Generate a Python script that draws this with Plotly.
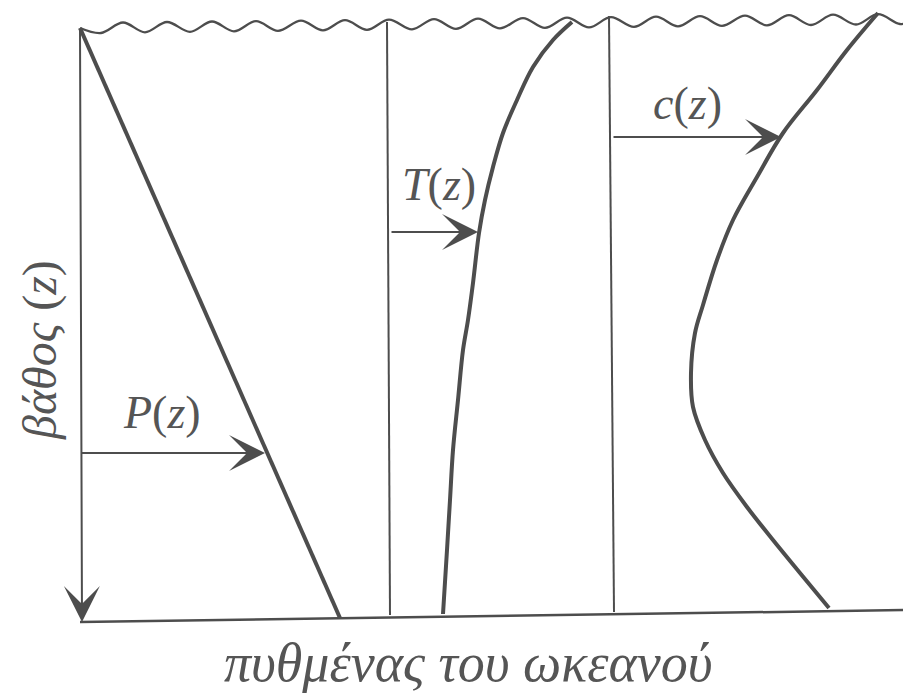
import plotly.graph_objects as go

# Diagram units: horizontal position (x) and depth drawn downward (y),
# read off the reference drawing.
_INK = "#4d4d4d"
_TEXT = "#555555"
_FONT = "Liberation Serif"

# sea surface: alternating crests / troughs, smoothed with a spline
surface_x = [80, 101, 123, 145, 167, 190, 212, 234, 256, 278, 301, 323, 345, 367,
             389, 412, 434, 456, 478, 500, 523, 545, 567, 589, 611, 634, 656, 678,
             700, 722, 745, 767, 789, 811, 833, 856, 878, 900, 911]
surface_y = [28, 33, 22.5, 32.3, 22, 31.8, 21.5, 31.3, 21.1, 30.8, 20.6, 30.3, 20.1,
             29.8, 19.6, 29.3, 19.1, 28.9, 18.6, 28.4, 18.1, 27.9, 17.6, 27.4, 17.2,
             26.9, 16.7, 26.4, 16.2, 25.9, 15.7, 25.4, 15.2, 25, 14.7, 24.5, 14.2,
             24, 21]

# sea floor
floor_x = [80, 911]
floor_y = [622, 610]

# reference verticals for the T and c profiles
t_axis_x = [387, 390]
t_axis_y = [22, 615]
c_axis_x = [609, 614]
c_axis_y = [16, 612]

# pressure: linear with depth
p_x = [80, 340]
p_y = [28, 618]

# temperature profile
t_x = [572, 553, 533, 517, 503, 493, 485, 479, 473, 468, 463, 458, 453, 450, 447, 443]
t_y = [22, 40, 67, 100, 133, 167, 200, 233, 283, 320, 350, 400, 450, 500, 550, 614]

# sound-speed profile
c_x = [878, 847, 817, 783, 757, 733, 717, 703, 695, 691, 693, 705, 723, 747, 773, 800, 829]
c_y = [13, 50, 90, 133, 177, 220, 260, 305, 333, 373, 407, 440, 473, 507, 540, 573, 608]

# arrows: (tail x, tail y, head x, head y)
depth_arrow = (80, 28, 82, 622)
p_arrow = (80, 453, 265, 453)
t_arrow = (390, 232, 478, 232)
c_arrow = (612, 137, 781, 137)

labels = ["<i>P</i>(<i>z</i>)", "<i>T</i>(<i>z</i>)", "<i>c</i>(<i>z</i>)"]
label_x = [162, 439, 687]
label_y = [412, 184, 103]

floor_label = "<i>πυθμένας του ωκεανού</i>"
depth_label = "<i>βάθος</i> (<i>z</i>)"

# the page body has an 8 px margin; shift the axes so the drawing lands
# where the reference has it
_PAGE_W, _PAGE_H, _BODY = 911, 697, 8

fig = go.Figure()


def add_line(x, y, width, spline=False):
    fig.add_scatter(
        x=x,
        y=y,
        mode="lines",
        line={"color": _INK, "width": width, "shape": "spline" if spline else "linear"},
        hoverinfo="skip",
        showlegend=False,
    )


add_line(surface_x, surface_y, 2.3, spline=True)
add_line(floor_x, floor_y, 2.5)
add_line(t_axis_x, t_axis_y, 2)
add_line(c_axis_x, c_axis_y, 2)
add_line(p_x, p_y, 4)
add_line(t_x, t_y, 4, spline=True)
add_line(c_x, c_y, 4, spline=True)

for ax, ay, hx, hy in [depth_arrow, p_arrow, t_arrow, c_arrow]:
    fig.add_annotation(
        x=hx, y=hy, ax=ax, ay=ay, xref="x", yref="y", axref="x", ayref="y",
        text="", showarrow=True, arrowhead=3, arrowsize=3, arrowwidth=2,
        arrowcolor=_INK, standoff=0,
    )

for text, x, y in zip(labels, label_x, label_y):
    fig.add_annotation(
        x=x, y=y, xref="x", yref="y", text=text, showarrow=False,
        font={"family": _FONT, "size": 46, "color": _TEXT},
    )

fig.add_annotation(
    x=468, y=663, xref="x", yref="y", text=floor_label, showarrow=False,
    font={"family": _FONT, "size": 54, "color": _TEXT},
)
fig.add_annotation(
    x=40, y=350, xref="x", yref="y", text=depth_label, showarrow=False, textangle=-90,
    font={"family": _FONT, "size": 48, "color": _TEXT},
)

fig.update_layout(
    template="plotly_white",
    width=_PAGE_W - _BODY,
    height=_PAGE_H - _BODY,
    margin={"l": 0, "r": 0, "t": 0, "b": 0},
    paper_bgcolor="white",
    plot_bgcolor="white",
    showlegend=False,
)
fig.update_xaxes(range=[_BODY, _PAGE_W], visible=False, fixedrange=True)
fig.update_yaxes(range=[_PAGE_H, _BODY], visible=False, fixedrange=True)

fig.write_html("out.html")
